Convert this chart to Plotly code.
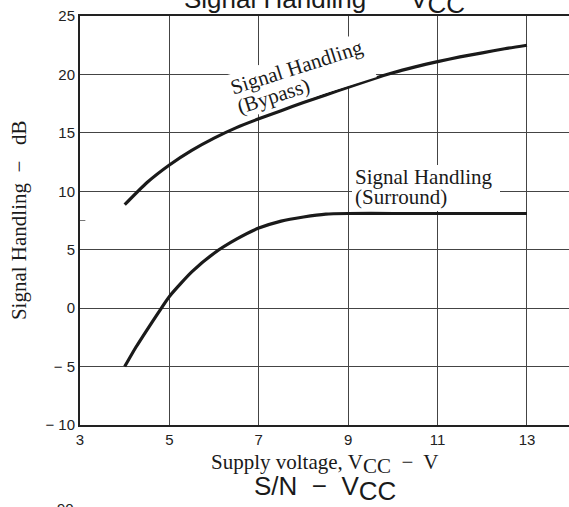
import plotly.graph_objects as go

# ---- data ----
vcc_bypass = [4.0, 4.5, 5.0, 5.5, 6.0, 6.5, 7.0, 7.5, 8.0, 8.5, 9.0, 9.5, 10.0, 10.5, 11.0, 11.5, 12.0, 12.5, 13.0]
sh_bypass = [8.85, 10.75, 12.25, 13.5, 14.55, 15.45, 16.2, 16.9, 17.6, 18.25, 18.9, 19.55, 20.15, 20.65, 21.1, 21.5, 21.85, 22.2, 22.5]

vcc_surround = [4.0, 4.25, 4.5, 4.75, 5.0, 5.5, 6.0, 6.5, 7.0, 7.5, 8.0, 8.5, 9.0, 10.0, 11.0, 12.0, 13.0]
sh_surround = [-5.0, -3.35, -1.85, -0.4, 1.0, 3.1, 4.7, 5.9, 6.85, 7.45, 7.8, 8.05, 8.1, 8.1, 8.1, 8.1, 8.1]

x_tick_vals = [3, 5, 7, 9, 11, 13]
x_tick_text = ["3", "5", "7", "9", "11", "13"]
y_tick_vals = [-10, -5, 0, 5, 10, 15, 20, 25]
y_tick_text = ["\u2212 10", "\u2212 5", "0", "5", "10", "15", "20", "25"]

SANS = "Liberation Sans, Arial, sans-serif"
SERIF = "Liberation Serif, Times New Roman, serif"
INK = "#1a1a1a"

fig = go.Figure()
fig.add_trace(go.Scatter(x=vcc_bypass, y=sh_bypass, mode="lines",
                         line=dict(color=INK, width=3.2, shape="spline", smoothing=0.6),
                         hoverinfo="skip", showlegend=False))
fig.add_trace(go.Scatter(x=vcc_surround, y=sh_surround, mode="lines",
                         line=dict(color=INK, width=3.2, shape="spline", smoothing=0.6),
                         hoverinfo="skip", showlegend=False))

fig.update_layout(
    width=569, height=507,
    margin=dict(l=80, r=0, t=16, b=82, pad=0),
    paper_bgcolor="white", plot_bgcolor="white",
    showlegend=False,
)
fig.update_xaxes(
    range=[3, 13.94], tickmode="array", tickvals=x_tick_vals, ticktext=x_tick_text,
    showgrid=True, gridcolor="#444", gridwidth=1,
    showline=True, linecolor="#222", linewidth=2, mirror=True,
    ticks="", zeroline=False, fixedrange=True,
    tickfont=dict(family=SANS, size=15, color="#222"),
)
fig.update_yaxes(
    range=[-10, 25], tickmode="array", tickvals=y_tick_vals, ticktext=y_tick_text,
    showgrid=True, gridcolor="#444", gridwidth=1,
    showline=True, linecolor="#222", linewidth=2, mirror=False,
    ticks="", zeroline=False, fixedrange=True,
    tickfont=dict(family=SANS, size=15, color="#222"),
)

# small stray mark near the left axis
fig.add_shape(type="line", x0=3, x1=3.12, y0=7.5, y1=7.5, line=dict(color="#777", width=1))

NB = "\u00a0"
serif = dict(family=SERIF, size=21, color=INK)
sans_big = dict(family=SANS, size=26, color=INK)

# white label boxes (drawn first, hide the grid behind the labels)
fig.add_annotation(text=NB, x=7.928, y=19.86, xref="x", yref="y",
                   width=146, height=47, textangle=-17.6, showarrow=False,
                   xanchor="center", yanchor="middle",
                   bgcolor="white", borderwidth=0, borderpad=0, font=dict(size=2))
fig.add_annotation(text=NB, x=10.737, y=10.247, xref="x", yref="y",
                   width=148, height=46, showarrow=False,
                   xanchor="center", yanchor="middle",
                   bgcolor="white", borderwidth=0, borderpad=0, font=dict(size=2))

# curve labels
fig.add_annotation(text="Signal Handling", x=7.861, y=20.61, xref="x", yref="y",
                   textangle=-17.6, showarrow=False, font=serif, borderpad=0)
fig.add_annotation(text="(Bypass)", x=7.331, y=18.17, xref="x", yref="y",
                   textangle=-17.6, showarrow=False, font=serif, borderpad=0)
fig.add_annotation(text="Signal Handling", x=9.078, y=11.22, xref="x", yref="y",
                   xanchor="left", yanchor="middle", showarrow=False, font=serif,
                   borderwidth=0, borderpad=3)
fig.add_annotation(text="(Surround)", x=9.078, y=9.51, xref="x", yref="y",
                   xanchor="left", yanchor="middle", showarrow=False, font=serif,
                   borderwidth=0, borderpad=3)

# axis titles
fig.add_annotation(text="Supply voltage, V<sub><span style='font-size:21px'>CC</span></sub>  \u2212  V",
                   x=0.5, y=-0.0956, xref="paper", yref="paper",
                   xanchor="center", yanchor="middle", showarrow=False, font=serif)
fig.add_annotation(text="Signal Handling  \u2212   dB",
                   x=-0.1256, y=0.5, xref="paper", yref="paper", textangle=-90,
                   xanchor="center", yanchor="middle", showarrow=False, font=serif)

# chart titles (this chart's, cut at top; next chart's, at bottom)
fig.add_annotation(text="Signal Handling  \u2212  V<sub><span style='font-size:26px'>CC</span></sub>",
                   x=0.5, y=1.0349, xref="paper", yref="paper",
                   xanchor="center", yanchor="middle", showarrow=False, font=sans_big)
fig.add_annotation(text="S/N  \u2212  V<sub><span style='font-size:26px'>CC</span></sub>",
                   x=0.5, y=-0.1557, xref="paper", yref="paper",
                   xanchor="center", yanchor="middle", showarrow=False, font=sans_big)
fig.add_annotation(text="90", x=-0.0082, y=-0.2042, xref="paper", yref="paper",
                   xanchor="right", yanchor="middle", showarrow=False,
                   font=dict(family=SANS, size=15, color="#222"))

fig.write_html("out.html")
